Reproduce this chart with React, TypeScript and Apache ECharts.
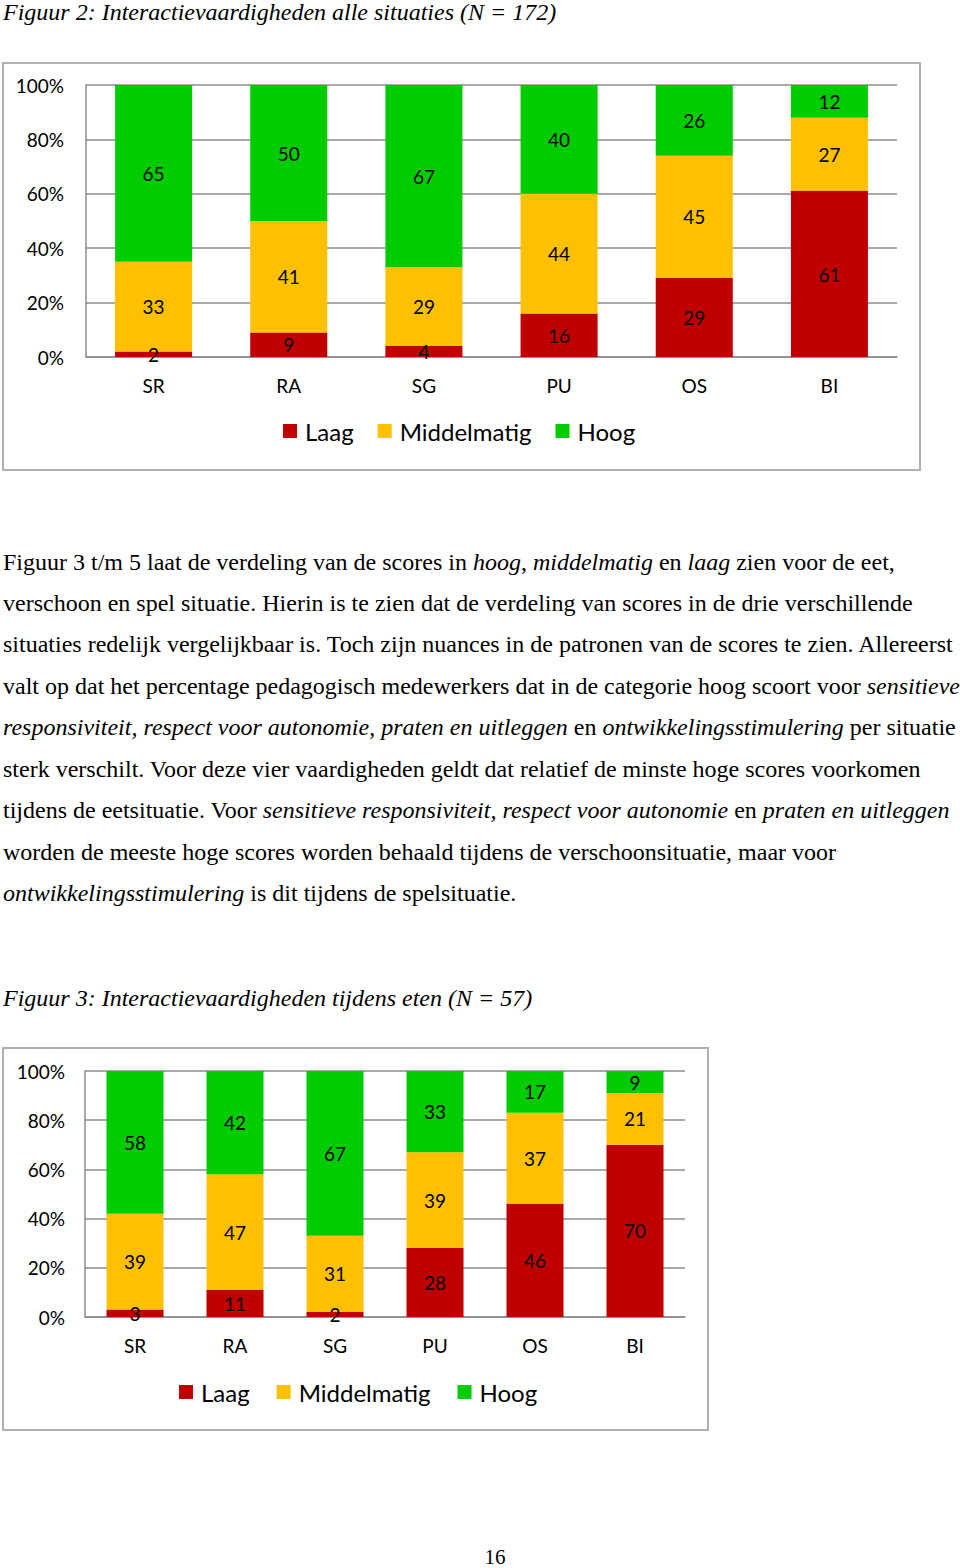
import React, { useEffect, useRef } from "react";
import * as echarts from "echarts";

const categories = ["SR", "RA", "SG", "PU", "OS", "BI"];
const seriesNames = ["Laag", "Middelmatig", "Hoog"];
const colors = ["#C00000", "#FFC000", "#00CC00"];

// Figuur 2: alle situaties
const allLaag = [2, 9, 4, 16, 29, 61];
const allMiddel = [33, 41, 29, 44, 45, 27];
const allHoog = [65, 50, 67, 40, 26, 12];

// Figuur 3: eten
const etenLaag = [3, 11, 2, 28, 46, 70];
const etenMiddel = [39, 47, 31, 39, 37, 21];
const etenHoog = [58, 42, 67, 33, 17, 9];

const yTicks = [0, 20, 40, 60, 80, 100];

const FONT = "Lato, 'Noto Sans', sans-serif";

function buildOption(
  data: number[][],
  grid: { left: number; top: number; width: number; height: number },
  legendPos: { left: number; top: number; gap: number },
  yMargin: number
) {
  return {
    animation: false,
    grid: { ...grid, containLabel: false },
    legend: {
      data: seriesNames,
      left: legendPos.left,
      top: legendPos.top,
      icon: "rect",
      itemWidth: 14,
      itemHeight: 14,
      itemGap: legendPos.gap,
      textStyle: { fontFamily: FONT, fontSize: 24, color: "#000", padding: [0, 0, 0, 3] },
    },
    xAxis: {
      type: "category",
      data: categories,
      axisLine: { show: true, lineStyle: { color: "#8c8c8c", width: 1.5 } },
      axisTick: { show: false },
      axisLabel: { fontFamily: FONT, fontSize: 19, color: "#000", margin: 19 },
    },
    yAxis: {
      type: "value",
      min: yTicks[0],
      max: yTicks[yTicks.length - 1],
      interval: 20,
      axisLine: { show: true, lineStyle: { color: "#8c8c8c", width: 1.5 } },
      axisTick: { show: false },
      splitLine: { show: true, lineStyle: { color: "#8c8c8c", width: 1.5 } },
      axisLabel: {
        fontFamily: FONT,
        fontSize: 19,
        color: "#000",
        margin: yMargin,
        formatter: "{value}%",
      },
    },
    series: seriesNames.map((name, i) => ({
      name,
      type: "bar",
      stack: "total",
      barWidth: "57%",
      data: data[i],
      itemStyle: { color: colors[i] },
      label: {
        show: true,
        position: "inside",
        fontFamily: FONT,
        fontSize: 19,
        color: "#000",
        formatter: (p: any) => String(p.value),
      },
    })),
  };
}

function Chart({ option, style }: { option: any; style: React.CSSProperties }) {
  const ref = useRef<HTMLDivElement>(null);
  useEffect(() => {
    if (!ref.current) return;
    const chart = echarts.init(ref.current, undefined, { renderer: "svg" });
    chart.setOption(option);
    return () => chart.dispose();
  }, [option]);
  return <div ref={ref} style={{ position: "absolute", ...style }} />;
}

const serif = "'Liberation Serif', 'Times New Roman', serif";

const paraLines: React.ReactNode[] = [
  <>Figuur 3 t/m 5 laat de verdeling van de scores in <i>hoog</i>, <i>middelmatig</i> en <i>laag</i> zien voor de eet,</>,
  <>verschoon en spel situatie. Hierin is te zien dat de verdeling van scores in de drie verschillende</>,
  <>situaties redelijk vergelijkbaar is. Toch zijn nuances in de patronen van de scores te zien. Allereerst</>,
  <>valt op dat het percentage pedagogisch medewerkers dat in de categorie hoog scoort voor <i>sensitieve</i></>,
  <><i>responsiviteit, respect voor autonomie</i>, <i>praten en uitleggen</i> en <i>ontwikkelingsstimulering</i> per situatie</>,
  <>sterk verschilt. Voor deze vier vaardigheden geldt dat relatief de minste hoge scores voorkomen</>,
  <>tijdens de eetsituatie. Voor <i>sensitieve responsiviteit, respect voor autonomie</i> en <i>praten en uitleggen</i></>,
  <>worden de meeste hoge scores worden behaald tijdens de verschoonsituatie, maar voor</>,
  <><i>ontwikkelingsstimulering</i> is dit tijdens de spelsituatie.</>,
];
const paraCenters = [562, 603, 644, 686, 727, 769, 810, 852, 893];

const option1 = buildOption(
  [allLaag, allMiddel, allHoog],
  { left: 84, top: 23, width: 811, height: 272 },
  { left: 276, top: 352, gap: 24 },
  22
);
const option2 = buildOption(
  [etenLaag, etenMiddel, etenHoog],
  { left: 83, top: 24, width: 600, height: 246 },
  { left: 172, top: 328, gap: 27 },
  20
);

export default function App() {
  const textLine = (cy: number, content: React.ReactNode, key: any, extra: React.CSSProperties = {}) => (
    <div
      key={key}
      style={{
        position: "absolute",
        left: 3,
        top: cy - 14,
        height: 28,
        lineHeight: "28px",
        fontFamily: serif,
        fontSize: 24,
        color: "#000",
        whiteSpace: "nowrap",
        ...extra,
      }}
    >
      {content}
    </div>
  );
  return (
    <div
      style={{
        position: "absolute",
        left: 0,
        top: 0,
        width: 960,
        height: 1568,
        background: "#fff",
        overflow: "hidden",
      }}
    >
      {textLine(12, "Figuur 2: Interactievaardigheden alle situaties (N = 172)", "t1", { fontStyle: "italic" })}
      <div
        style={{
          position: "absolute",
          left: 2,
          top: 62,
          width: 919,
          height: 409,
          border: "2px solid #b0b0b0",
          boxSizing: "border-box",
        }}
      />
      <Chart option={option1} style={{ left: 2, top: 62, width: 919, height: 409 }} />
      {paraLines.map((l, i) => textLine(paraCenters[i], l, "p" + i))}
      {textLine(998, "Figuur 3: Interactievaardigheden tijdens eten (N = 57)", "t2", { fontStyle: "italic" })}
      <div
        style={{
          position: "absolute",
          left: 2,
          top: 1047,
          width: 707,
          height: 384,
          border: "2px solid #b0b0b0",
          boxSizing: "border-box",
        }}
      />
      <Chart option={option2} style={{ left: 2, top: 1047, width: 707, height: 384 }} />
      <div
        style={{
          position: "absolute",
          left: 470,
          width: 50,
          top: 1545,
          height: 24,
          lineHeight: "24px",
          textAlign: "center",
          fontFamily: serif,
          fontSize: 21,
          color: "#000",
        }}
      >
        16
      </div>
    </div>
  );
}
